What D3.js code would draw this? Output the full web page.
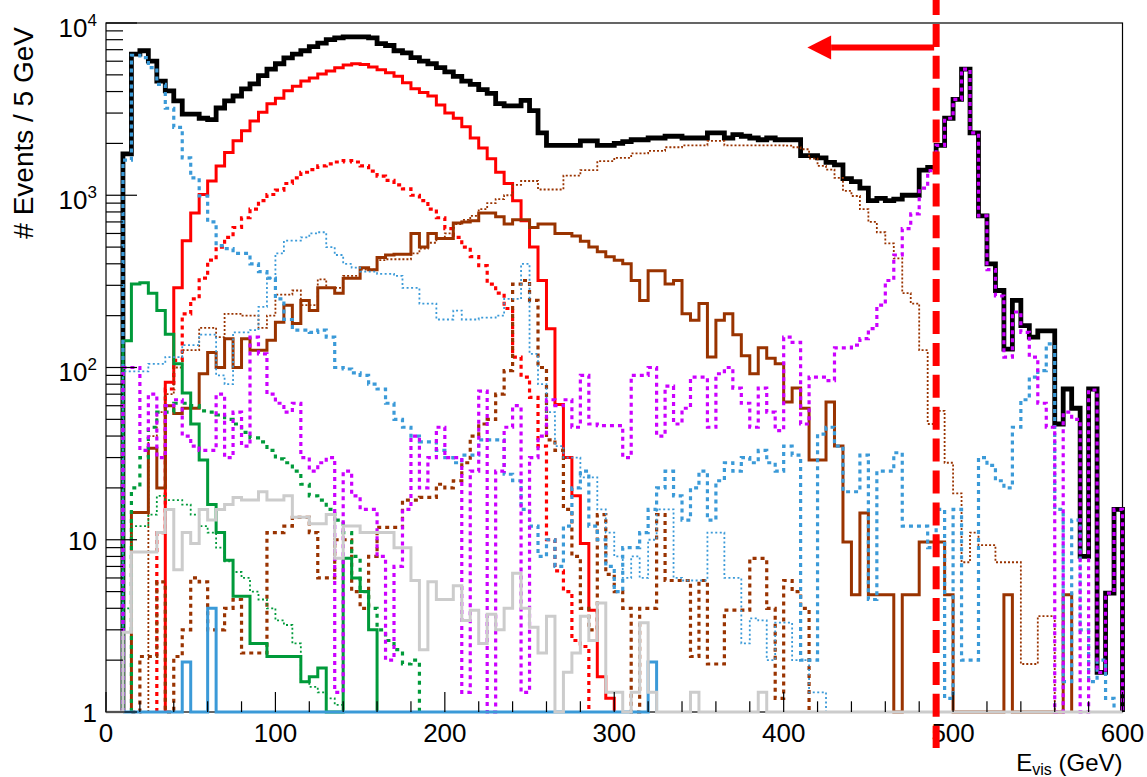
<!DOCTYPE html>
<html><head><meta charset="utf-8">
<script src="https://cdn.jsdelivr.net/npm/d3@7"></script>
<style>body{margin:0;background:#fff}svg{display:block}</style>
</head><body>
<svg id="c" width="1147" height="777"></svg>
<script>
const N = null;
const binWidth = 5;
const xTickValues = [0,100,200,300,400,500,600];
const yDecades = [0,1,2,3,4];
const cutValue = 490;

const total = [
N,N,1740,6600,6900,6000,4600,4040,3530,2960,
2960,2800,2750,3210,3530,3770,4150,4430,4950,5400,
5800,6280,6600,6900,7300,7650,8000,8200,8300,8300,
8300,8200,7600,7400,6900,6700,6300,6000,5800,5500,
5200,4900,4600,4400,4100,3900,3400,3300,3300,3550,
3100,2300,1950,1950,1950,1950,2070,2070,1950,1950,
2000,2050,2100,2100,2150,2150,2200,2200,2150,2150,
2150,2300,2300,2150,2250,2200,2150,2100,2150,2100,
2100,2100,1700,1700,1650,1550,1500,1250,1200,1100,
930,960,930,950,1000,1000,1400,1450,1950,2800,
3600,5400,2300,760,400,280,128,245,175,150,
163,163,47,75,58,8,75,1.7,4.9,15];

const redSolid = [
N,N,N,N,N,N,N,82,290,545,
790,1010,1210,1480,1770,2070,2370,2700,3030,3400,
3660,4040,4300,4600,4800,5050,5270,5500,5700,5800,
5750,5550,5350,5150,4900,4500,4150,3950,3770,3340,
3000,2800,2500,2150,1880,1630,1360,1170,930,710,
500,320,168,61,30,18,9.5,3.9,1.6,1.2,
N,N,N,N,N,N,N,N,N,N, N,N,N,N,N,N,N,N,N,N,
N,N,N,N,N,N,N,N,N,N, N,N,N,N,N,N,N,N,N,N,
N,N,N,N,N,N,N,N,N,N, N,N,N,N,N,N,N,N,N,N];

const redDotted = [
N,N,N,N,N,N,11,75,110,205,
250,330,420,500,570,650,740,830,930,1010,
1070,1170,1260,1360,1410,1480,1520,1560,1590,1560,
1480,1380,1290,1220,1150,1090,1000,930,830,740,
640,570,500,440,390,305,270,220,115,88,
67,35,10,6.6,5,2.6,2.4,N,N,N,
N,N,N,N,N,N,N,N,N,N, N,N,N,N,N,N,N,N,N,N,
N,N,N,N,N,N,N,N,N,N, N,N,N,N,N,N,N,N,N,N,
N,N,N,N,N,N,N,N,N,N, N,N,N,N,N,N,N,N,N,N];

const brownSolid = [
N,N,N,14.4,14.4,34,20,60,54,58,
58,92,122,100,147,100,147,126,126,144,
183,230,180,245,214,290,290,270,330,330,
380,370,435,450,455,455,600,500,600,560,
560,690,700,710,790,790,750,680,720,720,
650,680,680,600,600,580,540,500,470,440,
420,400,320,245,365,365,305,320,205,188,
235,115,188,205,155,117,92,130,113,105,
63,76,58,29,29,63,35,9.7,4.8,14.3,
4.8,4.8,4.8,0,4.8,4.8,9.7,9.7,9.7,4.8,
0,0,0,0,0,0,4.8,0,0,0,
0,0,0,4.8,N,N,N,N,N,N];

const brownThin = [
N,N,N,N,N,40,55,70,100,126,
126,170,170,150,205,205,200,200,170,200,
265,265,280,230,230,325,290,290,340,340,
370,370,420,425,425,425,460,490,530,560,
600,680,720,760,830,900,950,1000,1150,1210,
1210,1080,1080,1080,1300,1300,1400,1400,1580,1580,
1650,1650,1750,1750,1810,1810,1900,1900,1950,1950,
1950,2070,2070,1950,1950,1950,1950,1950,1950,1950,
1940,1900,1850,1630,1480,1410,1260,1060,990,830,
700,610,525,430,270,235,126,47,56,28,
18.6,7.4,11,9.3,9.3,7.4,7.4,7.4,1.9,1.9,
3.6,3.6,N,N,N,N,N,N,N,N];

const brownThick = [
N,N,N,1,2.1,2.1,5.7,1,2.1,3,
6,5.7,3,3,4,4.5,2.2,2.2,2.2,11,
11,12,13.5,13.5,11,6,6,10,10,5,
4,8,11.8,11.8,11.8,17,17,17.6,17.6,21,
20,22,28,40,47,50,70,96,305,320,
245,100,38,33,15,8,4,3,14,6.3,
5,4,0,4,4,14,5.8,5.8,5.8,2.1,
5.8,1.9,1.9,3.9,3.9,3.9,7.8,7.8,4,1.2,
5.8,5,4,N,N,N,N,N,N,N,
N,N,N,N,N,N,N,N,N,N, N,N,N,N,N,N,N,N,N,N,
N,N,N,N,N,N,N,N,N,N];

const greenSolid = [
N,N,143,305,310,270,214,156,105,71,
47,29,16,11,7.6,4.7,4.7,2.5,2.5,2.1,
2.1,2.1,2.1,1.5,1.6,1.8,0,0,7.8,6,
5,3,N,N,N,N,N,N,N,N,
N,N,N,N,N,N,N,N,N,N, N,N,N,N,N,N,N,N,N,N,
N,N,N,N,N,N,N,N,N,N, N,N,N,N,N,N,N,N,N,N,
N,N,N,N,N,N,N,N,N,N, N,N,N,N,N,N,N,N,N,N,
N,N,N,N,N,N,N,N,N,N, N,N,N,N,N,N,N,N,N,N];

const greenDashed = [
N,N,N,20,30,45,55,55,62,62,
60,56,55,53,50,47,42,39,37,33,
29.5,28,25,21,18,17,15,13,11,8,
5,4,3,2.6,2.3,1.9,2.0,N,N,N,
N,N,N,N,N,N,N,N,N,N, N,N,N,N,N,N,N,N,N,N,
N,N,N,N,N,N,N,N,N,N, N,N,N,N,N,N,N,N,N,N,
N,N,N,N,N,N,N,N,N,N, N,N,N,N,N,N,N,N,N,N,
N,N,N,N,N,N,N,N,N,N, N,N,N,N,N,N,N,N,N,N];

const greenDotted = [
N,N,4,12,12,14,18,17,17,16,
14,12,11,9,7.5,6.5,6,5,4.5,4,
3.4,3.2,2.5,1.5,1.4,1.3,1.2,1.1,N,N,
N,N,N,N,N,N,N,N,N,N,
N,N,N,N,N,N,N,N,N,N, N,N,N,N,N,N,N,N,N,N,
N,N,N,N,N,N,N,N,N,N, N,N,N,N,N,N,N,N,N,N,
N,N,N,N,N,N,N,N,N,N, N,N,N,N,N,N,N,N,N,N,
N,N,N,N,N,N,N,N,N,N, N,N,N,N,N,N,N,N,N,N];

const blueThin = [
N,N,95,95,95,105,105,115,115,135,
135,155,155,90,80,160,160,165,225,330,
460,545,545,570,600,610,500,450,400,380,
360,360,350,350,340,290,290,235,235,190,
190,214,190,190,195,195,200,250,250,400,
120,80,55,35,30,30,23,23,15,11,
8,6,8,6,10,15,15,6,5.8,5.8,
5.8,11,11,6,6,2.5,3.5,3.4,2,3.3,
3.3,2,2,1.3,1.3,N,N,N,N,N,
N,N,N,N,N,N,N,N,N,N, N,N,N,N,N,N,N,N,N,N,
N,N,N,N,N,N,N,N,N,N];

const blueDotted = [
N,N,1600,6500,6300,5500,4400,3200,2480,1650,
1260,990,700,510,490,460,460,400,360,330,
250,190,165,165,160,165,150,100,98,93,
90,80,75,62,50,45,40,37,37,33,
30,28,31,31,38,38,38,24,22,15,
12,8,10,7,12,20,25,12,10,7,
5,9,9,11,15,20,25,18,13,20,
25,13,22,28,25,30,28,33,28,25,
35,31,2,2,41,45,35,19,19,31,
4.5,25,25,32,12,12,12,9,15,1.2,
15,2,2,30,27,22,20,45,65,88,
96,137,15,1.5,13,3,1.5,2,1.2,N];

const magenta = [
N,N,100,100,33,70,30,60,65,40,
35,33,33,70,30,55,35,150,120,70,
62,55,62,30,25,28,30,1.3,25,18,
15,15,8,2,7,15,40,20,30,45,
30,30,1.3,25,73,0,25,45,60,1.3,
30,40,65,60,65,45,90,47,46,46,
46,30,90,90,100,40,78,47,58,88,
88,45,92,100,76,62,45,76,55,43,
150,140,47,88,88,84,130,130,135,147,
168,230,320,450,640,780,1100,1390,1950,2800,
3600,5400,2300,760,370,260,115,210,160,115,
62,45,0,55,50,0,74,1.7,4.9,15];

const blueSolid = [
N,N,0,0,0,0,0,0,0,1.95,
0,0,4,0,0,0,0,0,0,0,
0,0,0,0,0,0,0,0,0,0,
0,0,0,0,0,0,0,0,0,0,
0,0,0,0,0,0,0,0,0,0,
0,0,0,0,0,0,0,0,0,0,
0,0,0,0,1.95,N,N,N,N,N,
N,N,N,N,N,N,N,N,N,N, N,N,N,N,N,N,N,N,N,N,
N,N,N,N,N,N,N,N,N,N, N,N,N,N,N,N,N,N,N,N,
N,N,N,N,N,N,N,N,N,N];

const grey = [
0,0,2.9,8.5,8.5,8.5,11,15,6.7,11,
9.5,15,13,15,16,17.6,17,17,19,17,
17,18,13.5,13.5,12.4,12.4,14,7.8,12,12,
11,11,11,11,9,9,5.8,2.3,5.7,4.5,
4.5,5.4,3.4,3.9,2.5,3.7,3,4,6.4,4,
3.1,2.2,3.6,0,1.7,2.2,3.6,2.6,4.3,1.3,
1.3,0,1.3,3.3,1.3,0,0,0,0,1.3,
0,0,0,0,0,0,0,1.3,0,0,
0,0,0,0,0,0,0,0,0,0, 0,0,0,0,0,0,0,0,0,0,
0,0,0,0,0,0,0,0,0,0, 0,0,0,0,0,0,0,0,0,0];

const COL = {blue:'#3b9ad8', green:'#009a3a', brown:'#993300', red:'#ff0000', mag:'#cc00ff', grey:'#cccccc'};
const layers = [
  {data: total,      color:'#000000', w:4.8},
  {data: redSolid,   color:COL.red,   w:3},
  {data: redDotted,  color:COL.red,   w:3.2, dash:'4,4'},
  {data: brownSolid, color:COL.brown, w:3},
  {data: brownThin,  color:COL.brown, w:1.8, dash:'2,2'},
  {data: brownThick, color:COL.brown, w:3.2, dash:'4,4'},
  {data: greenSolid, color:COL.green, w:3},
  {data: greenDashed,color:COL.green, w:3.2, dash:'4,5'},
  {data: greenDotted,color:COL.green, w:1.8, dash:'2,2.5'},
  {data: blueThin,   color:COL.blue,  w:1.8, dash:'2,2.5'},
  {data: blueDotted, color:COL.blue,  w:3.2, dash:'4,4'},
  {data: magenta,    color:COL.mag,   w:3.2, dash:'4,4'},
  {data: blueSolid,  color:COL.blue,  w:3},
  {data: grey,       color:COL.grey,  w:3}
];

const svg = d3.select('#c');
const x = d3.scaleLinear().domain([0,600]).range([106,1122.5]);
const y = d3.scaleLog().domain([1,1e4]).range([712,23]);
const y0 = y(1);
const FONT = "'Liberation Sans', Arial, Helvetica, sans-serif";

function stepPath(vals){
  let d = '', run = false;
  vals.forEach((v,i)=>{
    if (v === null){ if(run){ d += 'V'+y0; run=false; } return; }
    const yy = y(Math.max(v,1));
    const xa = x(i*binWidth), xb = x((i+1)*binWidth);
    if(!run){ d += 'M'+xa+','+y0+'V'+yy; run = true; } else { d += 'V'+yy; }
    d += 'H'+xb;
  });
  if(run) d += 'V'+y0;
  return d;
}

// frame
svg.append('rect').attr('x',x(0)).attr('y',y(1e4)).attr('width',x(600)-x(0)).attr('height',y0-y(1e4))
  .attr('fill','none').attr('stroke','#000').attr('stroke-width',1.2);

// histograms
const g = svg.append('g');
layers.forEach(L=>{
  g.append('path').attr('d',stepPath(L.data)).attr('fill','none')
   .attr('stroke',L.color).attr('stroke-width',L.w)
   .attr('stroke-dasharray',L.dash||null)
   .attr('stroke-linejoin','miter').attr('stroke-linecap','butt');
});

// y ticks
const ax = svg.append('g').attr('stroke','#000').attr('stroke-width',1.2);
yDecades.forEach(dd=>{
  const v = Math.pow(10,dd);
  ax.append('line').attr('x1',x(0)).attr('x2',x(0)+31).attr('y1',y(v)).attr('y2',y(v));
  if(dd<4) for(let m=2;m<=9;m++){
    const yy = y(m*v);
    ax.append('line').attr('x1',x(0)).attr('x2',x(0)+17).attr('y1',yy).attr('y2',yy);
  }
});
// x ticks
for(let e=0;e<=600;e+=20){
  const major = e % 100 === 0;
  ax.append('line').attr('x1',x(e)).attr('x2',x(e)).attr('y1',y0).attr('y2',y0-(major?20:10.7));
}

// y labels
yDecades.forEach(dd=>{
  const v = Math.pow(10,dd);
  const t = svg.append('text').attr('x',97).attr('text-anchor','end')
    .attr('font-family',FONT).attr('font-size',26).attr('fill','#000');
  if(dd===0){ t.attr('y',y(v)+10).text('1'); }
  else if(dd===1){ t.attr('y',y(v)+10).text('10'); }
  else {
    t.attr('y',y(v)+13.5);
    t.append('tspan').text('10');
    t.append('tspan').attr('font-size',17).attr('dy',-11).text(String(dd));
  }
});
// x labels
xTickValues.forEach(v=>{
  svg.append('text').attr('x',x(v)).attr('y',742).attr('text-anchor','middle')
    .attr('font-family',FONT).attr('font-size',26).attr('fill','#000').text(String(v));
});
// axis titles
svg.append('text').attr('transform','translate(33,27) rotate(-90)').attr('text-anchor','end')
  .attr('font-family',FONT).attr('font-size',28).attr('fill','#000').text('# Events / 5 GeV');
const xt = svg.append('text').attr('x',x(600)).attr('y',771).attr('text-anchor','end')
  .attr('font-family',FONT).attr('font-size',24).attr('fill','#000');
xt.append('tspan').text('E');
xt.append('tspan').attr('font-size',16).attr('dy',4).text('vis');
xt.append('tspan').attr('dy',-4).text(' (GeV)');

// cut line and arrow
const xc = x(cutValue);
svg.append('line').attr('x1',xc).attr('x2',xc).attr('y1',-8).attr('y2',748)
  .attr('stroke',COL.red).attr('stroke-width',7).attr('stroke-dasharray','23,8.9');
svg.append('line').attr('x1',xc-2).attr('x2',x(cutValue-62)).attr('y1',47.5).attr('y2',47.5)
  .attr('stroke',COL.red).attr('stroke-width',6);
const tipX = x(cutValue-76), baseX = x(cutValue-62);
svg.append('path').attr('d',`M${tipX},47.5L${baseX},35.5L${baseX},59.5Z`).attr('fill',COL.red);
</script>
</body></html>
